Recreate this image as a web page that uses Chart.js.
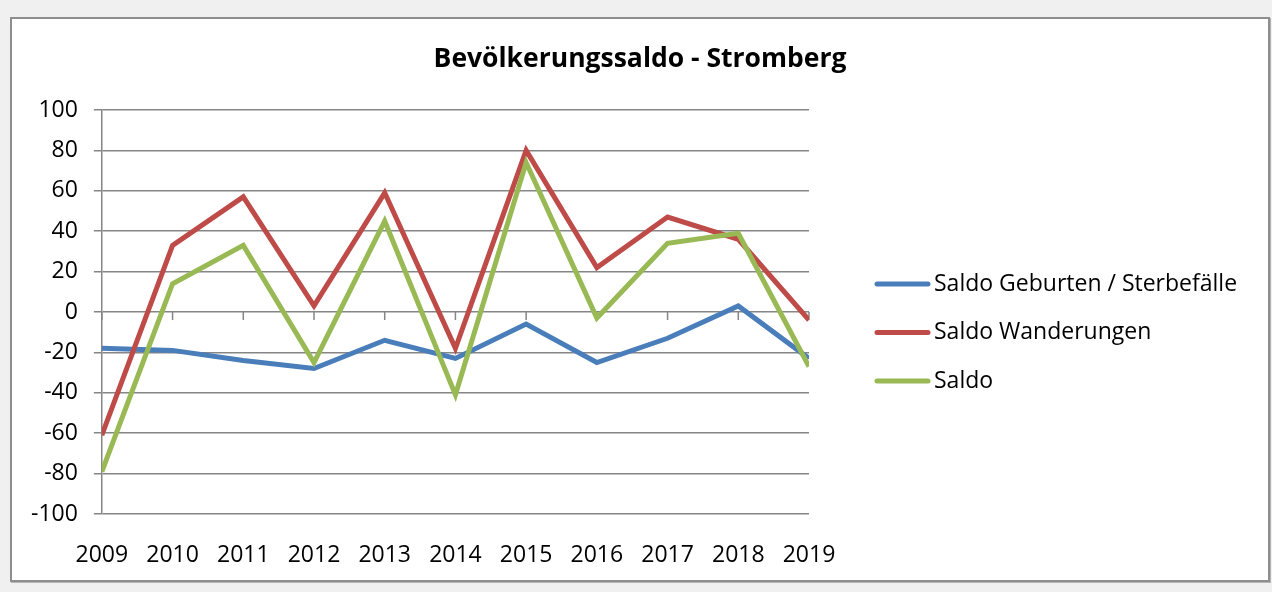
<!DOCTYPE html>
<html>
<head>
<meta charset="utf-8">
<title>Bevölkerungssaldo - Stromberg</title>
<script src="https://cdn.jsdelivr.net/npm/chart.js@4.4.1/dist/chart.umd.min.js"></script>
<style>
    html, body { margin: 0; padding: 0; background: #f0f0f0; }
    #frame {
        position: absolute; left: 10px; top: 17px;
        width: 1256px; height: 561px;
        background: #fff;
        border: 2px solid #8e8e8e;
        box-shadow: 1px 1px 0 #b4b4b4;
    }
    canvas { display: block; }
</style>
</head>
<body>
<div id="frame"><canvas id="saldoChart" width="1256" height="561"></canvas></div>

<script>
const years = ['2009', '2010', '2011', '2012', '2013', '2014', '2015', '2016', '2017', '2018', '2019'];
const geburtenSterbefaelle = [-18, -19, -24, -28, -14, -23, -6, -25, -13, 3, -23];
const wanderungen = [-61, 33, 57, 3, 59, -18, 80, 22, 47, 36, -4];
const saldo = [-79, 14, 33, -25, 45, -41, 74, -3, 34, 39, -27];

const chartTitle = 'Bevölkerungssaldo - Stromberg';
const FONT = "'Open Sans', 'Noto Sans', sans-serif";
const gridColor = '#868686';

// title centred on the whole canvas (the built-in one only spans the plot width)
const canvasTitle = {
    id: 'canvasTitle',
    afterDraw(chart) {
        const ctx = chart.ctx;
        ctx.save();
        ctx.font = 'bold 26.5px ' + FONT;
        ctx.fillStyle = '#000';
        ctx.textAlign = 'center';
        ctx.textBaseline = 'alphabetic';
        ctx.fillText(chartTitle, chart.width / 2, 48);
        ctx.restore();
    }
};

// small tick marks hanging below the zero line, one per year
const zeroTicks = {
    id: 'zeroTicks',
    beforeDatasetsDraw(chart) {
        const ctx = chart.ctx;
        const xs = chart.scales.x;
        const y0 = chart.scales.y.getPixelForValue(0);
        ctx.save();
        ctx.strokeStyle = gridColor;
        ctx.lineWidth = 1.5;
        ctx.beginPath();
        years.forEach((_, i) => {
            const x = xs.getPixelForValue(i);
            ctx.moveTo(x, y0);
            ctx.lineTo(x, y0 + 8);
        });
        ctx.stroke();
        ctx.restore();
    }
};

// legend on the right: short thick line + label per series
const sideLegend = {
    id: 'sideLegend',
    afterDraw(chart) {
        const ctx = chart.ctx;
        const area = chart.chartArea;
        const x0 = area.right + 66;
        let y = area.top + 174;
        ctx.save();
        ctx.font = '23px ' + FONT;
        ctx.textBaseline = 'middle';
        ctx.fillStyle = '#000';
        ctx.lineCap = 'round';
        ctx.lineWidth = 5;
        chart.data.datasets.forEach(ds => {
            ctx.strokeStyle = ds.borderColor;
            ctx.beginPath();
            ctx.moveTo(x0 + 2, y);
            ctx.lineTo(x0 + 53, y);
            ctx.stroke();
            ctx.fillText(ds.label, x0 + 59, y);
            y += 48.5;
        });
        ctx.restore();
    }
};

function drawChart() {
    new Chart(document.getElementById('saldoChart'), {
        type: 'line',
        data: {
            labels: years,
            datasets: [{
                label: 'Saldo Geburten / Sterbefälle',
                data: geburtenSterbefaelle,
                borderColor: '#4a7ebb',
                order: 3
            }, {
                label: 'Saldo Wanderungen',
                data: wanderungen,
                borderColor: '#be4b48',
                order: 2
            }, {
                label: 'Saldo',
                data: saldo,
                borderColor: '#98b954',
                order: 1
            }]
        },
        options: {
            responsive: false,
            animation: false,
            events: [],
            clip: 0,
            elements: {
                line: { borderWidth: 5, tension: 0, fill: false },
                point: { radius: 0 }
            },
            layout: { padding: { left: 3, right: 459, top: 91, bottom: 10 } },
            plugins: {
                legend: { display: false },
                tooltip: { enabled: false },
                title: { display: false }
            },
            scales: {
                x: {
                    grid: { display: false, drawTicks: false },
                    border: { display: false },
                    ticks: {
                        color: '#000',
                        font: { family: FONT, size: 23 },
                        padding: 28,
                        maxRotation: 0,
                        autoSkip: false
                    },
                    afterFit(scale) { scale.height = 56; }
                },
                y: {
                    min: -100,
                    max: 100,
                    ticks: {
                        stepSize: 20,
                        padding: 16,
                        color: '#000',
                        font: { family: FONT, size: 23 }
                    },
                    grid: { color: gridColor, lineWidth: 1.5, tickLength: 8 },
                    border: { color: gridColor, width: 1.5 }
                }
            }
        },
        plugins: [zeroTicks, sideLegend, canvasTitle]
    });
}

document.fonts.load("23px 'Open Sans'").then(drawChart, drawChart);
</script>
</body>
</html>
